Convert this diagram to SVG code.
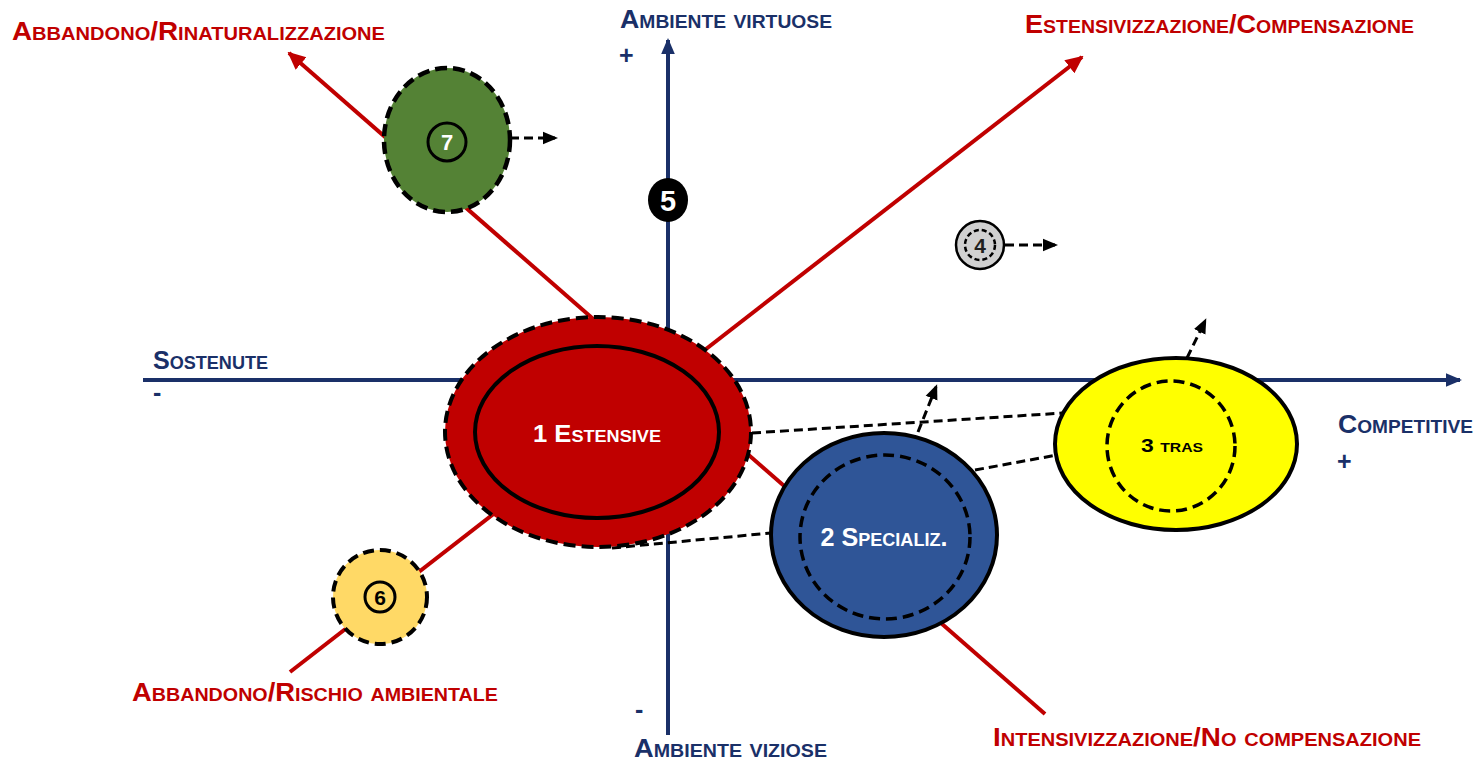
<svg xmlns="http://www.w3.org/2000/svg" width="1475" height="761" viewBox="0 0 1475 761">
<style>
.lbl{font-family:"Liberation Sans",Arial,sans-serif;font-weight:bold;font-variant:small-caps;font-size:25px}
.red{fill:#c00000}
.navy{fill:#1a3068}
.nt{font-family:"Liberation Sans",Arial,sans-serif;font-weight:bold;text-anchor:middle}
.axis{stroke:#1a3068;stroke-width:4;fill:none}
.rl{stroke:#c00000;stroke-width:4;fill:none}
.dash{stroke:#000;stroke-width:3;stroke-dasharray:9 5;fill:none}
</style>
<defs>
<marker id="ah" markerWidth="4" markerHeight="4" refX="3.5" refY="2" orient="auto" markerUnits="strokeWidth"><path d="M0,0.3 L4,2 L0,3.7 Z" fill="#1a3068"/></marker>
<marker id="rh" markerWidth="4.5" markerHeight="4.5" refX="4" refY="2.25" orient="auto" markerUnits="strokeWidth"><path d="M0,0.2 L4.5,2.25 L0,4.3 Z" fill="#c00000"/></marker>
<marker id="dh" markerWidth="5" markerHeight="5" refX="4" refY="2.5" orient="auto" markerUnits="strokeWidth"><path d="M0,0.4 L5,2.5 L0,4.6 Z" fill="#000"/></marker>
</defs>
<g id="connectors">
<line class="axis" x1="143" y1="380" x2="1460" y2="380" marker-end="url(#ah)"/>
<line class="axis" x1="668" y1="735" x2="668" y2="40" marker-end="url(#ah)"/>
<line class="rl" x1="1045" y1="714" x2="289" y2="53" marker-end="url(#rh)"/>
<line class="rl" x1="290" y1="672" x2="1082" y2="57" marker-end="url(#rh)"/>
<line class="dash" x1="752" y1="433" x2="1063" y2="413"/>
<line class="dash" x1="612" y1="548" x2="771" y2="533"/>
<line class="dash" x1="975" y1="470" x2="1057" y2="455"/>
<line class="dash" x1="918" y1="432" x2="936" y2="387" marker-end="url(#dh)"/>
<line class="dash" x1="1187" y1="358" x2="1205" y2="321" marker-end="url(#dh)"/>
<line class="dash" x1="510" y1="138" x2="555" y2="138" marker-end="url(#dh)"/>
<line class="dash" x1="1005" y1="245" x2="1055" y2="245" marker-end="url(#dh)"/>
</g>
<g id="node1">
<ellipse cx="598" cy="432" rx="153" ry="115" fill="#c00000" stroke="#000" stroke-width="4" stroke-dasharray="12 6"/>
<ellipse cx="597" cy="432" rx="122" ry="86" fill="none" stroke="#000" stroke-width="4"/>
<text class="nt" x="597" y="442" font-size="24" fill="#fff" style="font-variant:small-caps" textLength="128" lengthAdjust="spacingAndGlyphs">1 Estensive</text>
</g>
<g id="node2">
<ellipse cx="884" cy="535" rx="113" ry="102" fill="#2f5597" stroke="#000" stroke-width="4"/>
<ellipse cx="885" cy="537" rx="85" ry="82" fill="none" stroke="#000" stroke-width="3.5" stroke-dasharray="11 6"/>
<text class="nt" x="884" y="546" font-size="25" fill="#fff" style="font-variant:small-caps" textLength="127" lengthAdjust="spacingAndGlyphs">2 Specializ.</text>
</g>
<g id="node3">
<ellipse cx="1176" cy="444" rx="121" ry="86" fill="#ffff00" stroke="#000" stroke-width="4"/>
<ellipse cx="1171" cy="446" rx="64" ry="65" fill="none" stroke="#000" stroke-width="3.5" stroke-dasharray="11 6"/>
<text class="nt" x="1172" y="452" font-size="19" fill="#000" style="font-variant:small-caps" textLength="62" lengthAdjust="spacingAndGlyphs">3 tras</text>
</g>
<g id="node4">
<circle cx="980" cy="245" r="24" fill="#d0d0d0" stroke="#000" stroke-width="2.5"/>
<circle cx="980" cy="245" r="15" fill="none" stroke="#000" stroke-width="2.5" stroke-dasharray="5 3"/>
<text class="nt" x="980" y="253" font-size="21" font-weight="normal" fill="#1f1f1f">4</text>
</g>
<g id="node5">
<ellipse cx="668" cy="200" rx="20" ry="22" fill="#000"/>
<text class="nt" x="668" y="211" font-size="29" fill="#fff">5</text>
</g>
<g id="node6">
<circle cx="380" cy="597" r="47" fill="#ffd966" stroke="#000" stroke-width="4" stroke-dasharray="11 6"/>
<circle cx="380" cy="597" r="15" fill="none" stroke="#000" stroke-width="3"/>
<text class="nt" x="380" y="605" font-size="21" fill="#000">6</text>
</g>
<g id="node7">
<ellipse cx="447" cy="140" rx="63" ry="72" fill="#548235" stroke="#000" stroke-width="4.5" stroke-dasharray="12 6"/>
<circle cx="447" cy="142" r="19" fill="none" stroke="#000" stroke-width="3"/>
<text class="nt" x="447" y="150" font-size="22" fill="#fff">7</text>
</g>
<g id="labels">
<text class="lbl red" x="12" y="40" textLength="373" lengthAdjust="spacingAndGlyphs">Abbandono/Rinaturalizzazione</text>
<text class="lbl navy" x="620" y="28" textLength="212" lengthAdjust="spacingAndGlyphs">Ambiente virtuose</text>
<text class="lbl navy" x="619" y="64" style="font-variant:normal">+</text>
<text class="lbl red" x="1025" y="33" textLength="389" lengthAdjust="spacingAndGlyphs">Estensivizzazione/Compensazione</text>
<text class="lbl navy" x="153" y="369" textLength="115" lengthAdjust="spacingAndGlyphs">Sostenute</text>
<text class="lbl navy" x="153" y="401" style="font-variant:normal">-</text>
<text class="lbl navy" x="1338" y="433" textLength="135" lengthAdjust="spacingAndGlyphs">Competitive</text>
<text class="lbl navy" x="1337" y="470" style="font-variant:normal">+</text>
<text class="lbl red" x="132" y="701" textLength="366" lengthAdjust="spacingAndGlyphs">Abbandono/Rischio ambientale</text>
<text class="lbl navy" x="635" y="718" style="font-variant:normal">-</text>
<text class="lbl navy" x="634" y="757" textLength="193" lengthAdjust="spacingAndGlyphs">Ambiente viziose</text>
<text class="lbl red" x="993" y="746" textLength="428" lengthAdjust="spacingAndGlyphs">Intensivizzazione/No compensazione</text>
</g>
</svg>
